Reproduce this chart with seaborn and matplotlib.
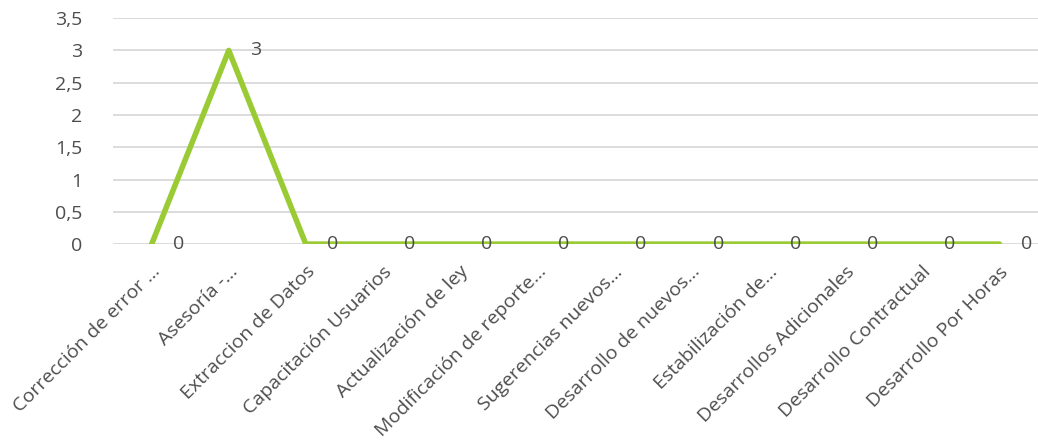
import matplotlib
matplotlib.use("Agg")
import matplotlib.pyplot as plt
import matplotlib.transforms as mtransforms
import pandas as pd
import seaborn as sns

categorias = [
    "Corrección de error …",
    "Asesoría -…",
    "Extraccion de Datos",
    "Capacitación Usuarios",
    "Actualización de ley",
    "Modificación de reporte…",
    "Sugerencias nuevos…",
    "Desarrollo de nuevos…",
    "Estabilización de…",
    "Desarrollos Adicionales",
    "Desarrollo Contractual",
    "Desarrollo Por Horas",
]
valores = [0, 3, 0, 0, 0, 0, 0, 0, 0, 0, 0, 0]
y_ticks = [0, 0.5, 1, 1.5, 2, 2.5, 3, 3.5]

df = pd.DataFrame({"categoria": categorias, "valor": valores})

sns.set_style("white")
plt.rcParams["font.family"] = ["Open Sans", "DejaVu Sans"]
text_color = "#4D4D4D"

fig = plt.figure(figsize=(10.38, 4.43), dpi=100)
ax = fig.add_axes([0.109, 0.449, 0.891, 0.510])

sns.lineplot(data=df, x="categoria", y="valor", sort=False, color="#9ACB34",
             linewidth=4.0, ax=ax)

for i, v in enumerate(valores):
    ax.annotate(f"{v}", (i, v), xytext=(27, 0), textcoords="offset pixels",
                ha="center", va="center", fontsize=14, color=text_color)

ax.set_xlim(-0.5, len(categorias) - 0.5)
ax.set_ylim(0, 3.5)
ax.set_yticks(y_ticks)
ax.set_yticklabels([f"{t:g}".replace(".", ",") for t in y_ticks],
                   fontsize=14, color=text_color)
ax.yaxis.grid(True, color="#D9D9D9", linewidth=1.3)
ax.set_axisbelow(True)
ax.tick_params(axis="y", length=0, pad=22)
ax.tick_params(axis="x", length=0, pad=18)
ax.set_xticks(range(len(categorias)))
ax.set_xticklabels(categorias, rotation=45, ha="right", va="center",
                   rotation_mode="anchor", fontsize=14, color=text_color)
shift = mtransforms.ScaledTranslation(6 / 100, 0, fig.dpi_scale_trans)
for lbl in ax.get_xticklabels():
    lbl.set_transform(lbl.get_transform() + shift)
ax.set_xlabel("")
ax.set_ylabel("")
for s in ax.spines.values():
    s.set_visible(False)

fig.savefig("out.png", dpi=100)
